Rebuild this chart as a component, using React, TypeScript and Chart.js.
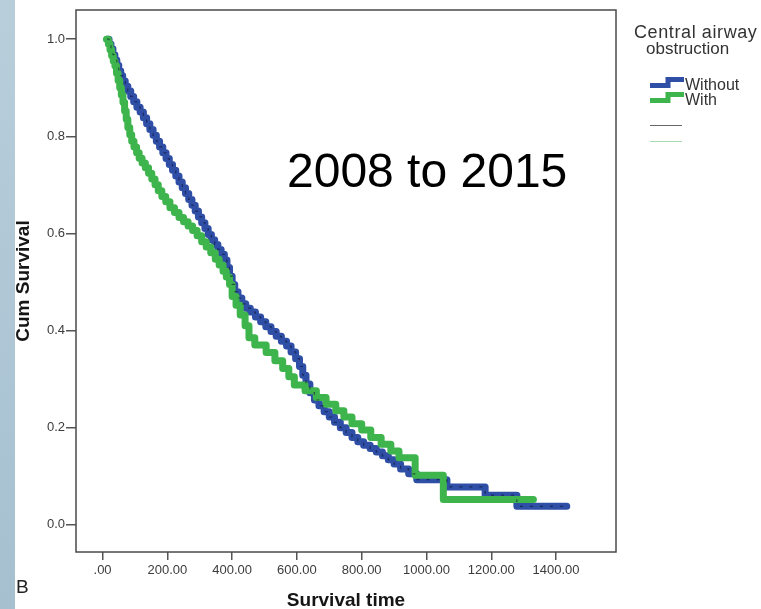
import React, { useEffect, useRef } from 'react';
import { Chart, registerables } from 'chart.js';

Chart.register(...registerables);

// ---- data ----
const seriesNames = ['Without', 'With'];

const withoutTimes = [14, 20, 26, 32, 38, 44, 50, 56, 62, 70, 78, 87, 96, 106, 116, 126, 136, 146, 156, 166, 176, 186, 196, 206, 216, 226, 236, 246, 256, 266, 276, 286, 296, 306, 316, 326, 336, 346, 356, 366, 376, 384, 392, 400, 408, 418, 430, 442, 456, 472, 488, 504, 520, 536, 552, 568, 582, 596, 608, 618, 628, 640, 654, 668, 684, 700, 716, 734, 752, 770, 788, 806, 826, 845, 864, 882, 900, 920, 945, 970, 1063, 1181, 1279, 1433];
const withoutSurv = [1.0, 0.99, 0.98, 0.968, 0.957, 0.946, 0.935, 0.925, 0.914, 0.903, 0.893, 0.882, 0.871, 0.86, 0.85, 0.838, 0.826, 0.814, 0.802, 0.79, 0.778, 0.766, 0.754, 0.742, 0.73, 0.718, 0.706, 0.694, 0.682, 0.67, 0.658, 0.646, 0.634, 0.622, 0.61, 0.598, 0.587, 0.577, 0.567, 0.557, 0.545, 0.53, 0.512, 0.495, 0.48, 0.467, 0.455, 0.446, 0.438, 0.428, 0.418, 0.408, 0.398, 0.388, 0.378, 0.368, 0.356, 0.342, 0.326, 0.308, 0.29, 0.272, 0.257, 0.245, 0.233, 0.222, 0.211, 0.2, 0.19, 0.18, 0.171, 0.164, 0.157, 0.15, 0.142, 0.134, 0.125, 0.115, 0.105, 0.093, 0.078, 0.061, 0.038, 0.038];

const withTimes = [12, 18, 23, 28, 33, 38, 43, 48, 53, 58, 63, 68, 73, 78, 84, 90, 97, 105, 113, 122, 132, 142, 152, 162, 172, 183, 195, 208, 222, 236, 250, 264, 278, 292, 306, 320, 334, 348, 360, 372, 382, 392, 400, 412, 425, 440, 452, 470, 505, 532, 556, 575, 592, 625, 660, 690, 720, 745, 770, 800, 828, 860, 890, 915, 965, 1052, 1330];
const withSurv = [1.0, 0.99, 0.978, 0.966, 0.955, 0.945, 0.93, 0.915, 0.9, 0.885, 0.87, 0.852, 0.835, 0.818, 0.803, 0.79, 0.778, 0.766, 0.755, 0.745, 0.735, 0.724, 0.712, 0.7, 0.688, 0.676, 0.665, 0.653, 0.643, 0.633, 0.624, 0.615, 0.606, 0.595, 0.583, 0.572, 0.56, 0.547, 0.535, 0.522, 0.51, 0.495, 0.47, 0.452, 0.432, 0.41, 0.385, 0.37, 0.355, 0.338, 0.322, 0.305, 0.288, 0.276, 0.262, 0.248, 0.235, 0.222, 0.208, 0.195, 0.18, 0.166, 0.152, 0.138, 0.102, 0.052, 0.052];

const xTicks = [0, 200, 400, 600, 800, 1000, 1200, 1400];
const xTickLabels = ['.00', '200.00', '400.00', '600.00', '800.00', '1000.00', '1200.00', '1400.00'];
const yTicks = [0, 0.2, 0.4, 0.6, 0.8, 1.0];
const yTickLabels = ['0.0', '0.2', '0.4', '0.6', '0.8', '1.0'];

const xTitle = 'Survival time';
const yTitle = 'Cum Survival';
const legendTitle = ['Central airway', 'obstruction'];
const annotation = '2008 to 2015';
const panelLetter = 'B';

const BLUE = 'rgb(47,78,166)';
const GREEN = 'rgb(62,180,76)';
const FONT = '"Liberation Sans", Arial, Helvetica, sans-serif';

const toPoints = (t: number[], s: number[]) => t.map((x, i) => ({ x, y: s[i] }));

const framePlugin = {
  id: 'frame',
  beforeDatasetsDraw(chart: any) {
    const { ctx, chartArea: a } = chart;
    ctx.save();
    ctx.strokeStyle = '#4a4a4a';
    ctx.lineWidth = 1.5;
    ctx.strokeRect(a.left, a.top, a.right - a.left, a.bottom - a.top);
    ctx.restore();
  },
};

function labelFor(values: number[], labels: string[], v: number) {
  const i = values.findIndex((x) => Math.abs(x - v) < 1e-9);
  return i >= 0 ? labels[i] : '';
}

function ChartCanvas() {
  const ref = useRef<HTMLCanvasElement | null>(null);
  useEffect(() => {
    if (!ref.current) return;
    const chart = new Chart(ref.current, {
      type: 'line',
      data: {
        datasets: [
          {
            label: 'censor',
            data: toPoints(withoutTimes, withoutSurv),
            borderColor: 'rgba(10,15,40,0.55)',
            borderWidth: 1.2,
            borderDash: [3, 7],
            stepped: true,
            pointRadius: 0,
            fill: false,
          },
          {
            label: seriesNames[1],
            data: toPoints(withTimes, withSurv),
            borderColor: GREEN,
            borderWidth: 7,
            stepped: true,
            pointRadius: 0,
            fill: false,
            borderCapStyle: 'round',
            borderJoinStyle: 'round',
          },
          {
            label: seriesNames[0],
            data: toPoints(withoutTimes, withoutSurv),
            borderColor: BLUE,
            borderWidth: 7,
            stepped: true,
            pointRadius: 0,
            fill: false,
            borderCapStyle: 'round',
            borderJoinStyle: 'round',
          },
        ],
      },
      options: {
        responsive: false,
        animation: false,
        devicePixelRatio: 1,
        layout: { padding: { left: 0, right: 145, top: 10, bottom: 0 } },
        plugins: { legend: { display: false }, tooltip: { enabled: false } },
        scales: {
          x: {
            type: 'linear',
            min: -82,
            max: 1585,
            afterFit: (s: any) => {
              s.height = 60;
            },
            afterBuildTicks: (s: any) => {
              s.ticks = xTicks.map((v) => ({ value: v }));
            },
            ticks: {
              autoSkip: false,
              maxRotation: 0,
              padding: 3,
              color: '#3c3c3c',
              font: { family: FONT, size: 13 },
              callback: (v: any) => labelFor(xTicks, xTickLabels, Number(v)),
            },
            grid: { drawOnChartArea: false, drawTicks: true, tickLength: 8, color: '#555', lineWidth: 1.5 },
            border: { display: false },
            title: {
              display: true,
              text: xTitle,
              color: '#151515',
              font: { family: FONT, size: 19, weight: 'bold' },
              padding: { top: 0, bottom: 0 },
            },
          },
          y: {
            type: 'linear',
            min: -0.056,
            max: 1.06,
            afterFit: (s: any) => {
              s.width = 76;
            },
            afterBuildTicks: (s: any) => {
              s.ticks = yTicks.map((v) => ({ value: v }));
            },
            ticks: {
              padding: 1,
              color: '#3c3c3c',
              font: { family: FONT, size: 13 },
              callback: (v: any) => labelFor(yTicks, yTickLabels, Number(v)),
            },
            grid: { drawOnChartArea: false, drawTicks: true, tickLength: 10, color: '#555', lineWidth: 1.5 },
            border: { display: false },
            title: {
              display: true,
              text: yTitle,
              color: '#151515',
              font: { family: FONT, size: 19, weight: 'bold' },
              padding: { top: 12, bottom: 0 },
            },
          },
        },
      },
      plugins: [framePlugin],
    } as any);
    return () => chart.destroy();
  }, []);
  return <canvas ref={ref} width={761} height={612} style={{ position: 'absolute', left: 0, top: 0, width: 761, height: 612 }} />;
}

function StepIcon({ color, top }: { color: string; top: number }) {
  return (
    <svg width={36} height={14} style={{ position: 'absolute', left: 649, top }}>
      <polyline points="1,9.5 19,9.5 19,3.5 35,3.5" fill="none" stroke={color} strokeWidth={5} strokeLinejoin="miter" />
    </svg>
  );
}

const txt = (extra: React.CSSProperties): React.CSSProperties => ({
  position: 'absolute',
  fontFamily: FONT,
  lineHeight: 1,
  whiteSpace: 'nowrap',
  margin: 0,
  ...extra,
});

export default function App() {
  return (
    <div style={{ position: 'fixed', left: 0, top: 0, width: 761, height: 609, overflow: 'hidden', background: '#fff' }}>
      <div style={{ position: 'absolute', left: 0, top: 0, width: 15, height: 609, background: 'linear-gradient(#b8cedb, #a6c0d0)' }} />
      <ChartCanvas />
      <div style={txt({ left: 287, top: 147, fontSize: 48, color: '#000' })}>{annotation}</div>
      <div style={txt({ left: 16, top: 577, fontSize: 19, color: '#222' })}>{panelLetter}</div>
      <div style={txt({ left: 634, top: 23, fontSize: 18, letterSpacing: 0.6, color: '#333' })}>{legendTitle[0]}</div>
      <div style={txt({ left: 646, top: 40, fontSize: 17, color: '#333' })}>{legendTitle[1]}</div>
      <StepIcon color={BLUE} top={76} />
      <div style={txt({ left: 685, top: 77, fontSize: 16, color: '#333' })}>{seriesNames[0]}</div>
      <StepIcon color={GREEN} top={91} />
      <div style={txt({ left: 685, top: 91.5, fontSize: 16, color: '#333' })}>{seriesNames[1]}</div>
      <div style={{ position: 'absolute', left: 650, top: 124.5, width: 32, height: 1.5, background: '#666' }} />
      <div style={{ position: 'absolute', left: 650, top: 141, width: 32, height: 1, background: '#a8dcb0' }} />
    </div>
  );
}
